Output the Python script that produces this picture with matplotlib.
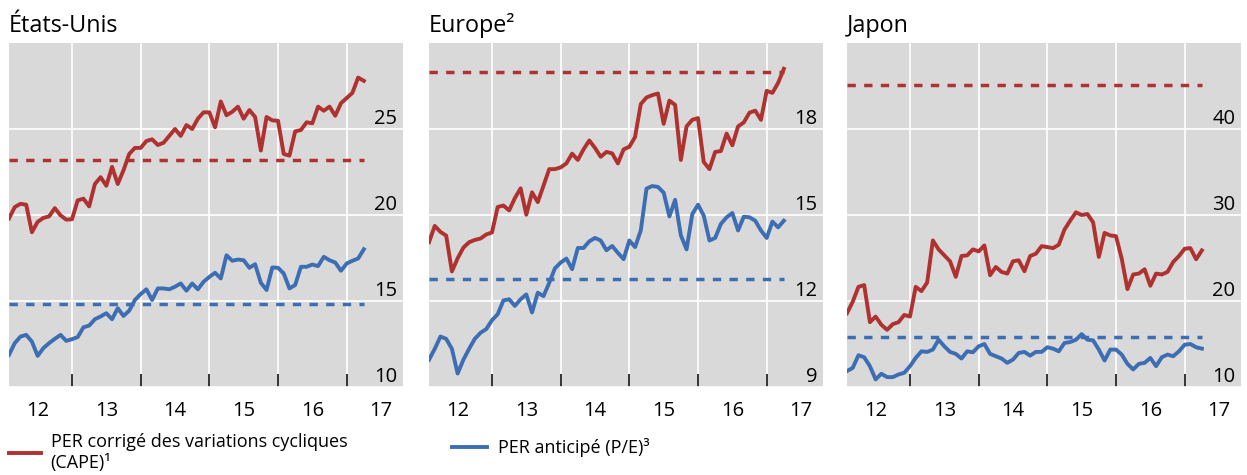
import numpy as np
import pandas as pd
import matplotlib
matplotlib.use("Agg")
import matplotlib.pyplot as plt
from matplotlib.lines import Line2D

plt.rcParams['font.family'] = ['Open Sans', 'DejaVu Sans']

# ---------------- data ----------------
dates = pd.date_range("2012-02-01", "2017-04-01", freq="MS")
xyear = np.asarray(dates.year + (dates.month - 1) / 12.0, dtype=float)

us_cape = [19.8, 20.46, 20.65, 20.6, 19.0, 19.6, 19.83, 19.92, 20.4, 19.98, 19.73, 19.75,
           20.85, 20.95, 20.5, 21.8, 22.2, 21.7, 22.8, 21.8, 22.6, 23.55, 23.9, 23.9,
           24.3, 24.4, 24.07, 24.2, 24.6, 25.0, 24.6, 25.23, 25.0, 25.6, 25.97, 25.97,
           25.1, 26.6, 25.8, 26.0, 26.3, 25.6, 26.1, 25.7, 23.75, 25.7, 25.5, 25.48,
           23.55, 23.45, 24.86, 24.94, 25.39, 25.33, 26.3, 26.06, 26.3, 25.77, 26.5, 26.8,
           27.1, 27.99, 27.8]
us_pe = [11.87, 12.55, 12.93, 13.03, 12.64, 11.81, 12.26, 12.55, 12.8, 13.03, 12.68, 12.78,
         12.9, 13.47, 13.57, 13.94, 14.1, 14.29, 13.94, 14.58, 14.13, 14.44, 15.06, 15.4,
         15.68, 15.06, 15.73, 15.73, 15.68, 15.83, 16.02, 15.6, 16.02, 15.68, 16.12, 16.4,
         16.64, 16.31, 17.66, 17.34, 17.41, 17.37, 16.93, 17.14, 16.06, 15.64, 16.95, 16.93,
         16.6, 15.73, 15.93, 16.99, 16.99, 17.12, 17.03, 17.57, 17.37, 17.24, 16.76, 17.18,
         17.34, 17.47, 18.01]
us_cape_avg = 23.22
us_pe_avg = 14.81

eu_cape = [14.05, 14.62, 14.41, 14.28, 13.03, 13.49, 13.86, 14.05, 14.13, 14.18, 14.32, 14.39,
           15.28, 15.33, 15.16, 15.59, 15.93, 15.01, 15.79, 15.45, 16.02, 16.6, 16.6, 16.66,
           16.8, 17.14, 16.92, 17.29, 17.6, 17.34, 17.03, 17.2, 17.15, 16.8, 17.29, 17.38,
           17.72, 18.87, 19.1, 19.18, 19.24, 18.18, 18.99, 18.84, 16.92, 18.09, 18.32, 18.38,
           16.85, 16.6, 17.2, 17.23, 17.84, 17.43, 18.09, 18.23, 18.57, 18.64, 18.32, 19.33,
           19.26, 19.61, 20.1]
eu_pe = [9.95, 10.33, 10.76, 10.68, 10.33, 9.47, 9.95, 10.33, 10.68, 10.89, 11.02, 11.33,
         11.54, 12.02, 12.06, 11.83, 12.06, 12.23, 11.6, 12.29, 12.17, 12.63, 13.14, 13.34,
         13.48, 13.11, 13.85, 13.85, 14.08, 14.2, 14.11, 13.77, 13.92, 13.68, 13.46, 14.11,
         13.88, 14.46, 15.92, 16.01, 15.98, 15.78, 14.95, 15.53, 14.29, 13.8, 15.03, 15.36,
         14.98, 14.11, 14.2, 14.69, 14.92, 15.07, 14.46, 14.94, 14.92, 14.8, 14.46, 14.2,
         14.77, 14.57, 14.8]
eu_cape_avg = 19.98
eu_pe_avg = 12.77

jp_cape = [18.58, 19.92, 21.65, 21.85, 17.54, 18.19, 17.23, 16.65, 17.31, 17.54, 18.38, 18.19,
           21.65, 21.15, 22.15, 27.04, 26.0, 25.31, 24.62, 22.81, 25.23, 25.31, 26.0, 25.77,
           26.46, 23.0, 23.96, 23.38, 23.19, 24.62, 24.73, 23.46, 25.23, 25.5, 26.38, 26.27,
           26.15, 26.54, 28.31, 29.35, 30.31, 30.0, 30.12, 29.15, 25.12, 27.92, 27.62, 27.54,
           24.92, 21.38, 23.08, 23.19, 23.69, 21.77, 23.19, 23.08, 23.38, 24.54, 25.23, 26.08,
           26.15, 24.85, 25.88]
jp_pe = [11.85, 12.23, 13.69, 13.46, 12.42, 10.88, 11.54, 11.15, 11.15, 11.46, 11.65, 12.42,
         13.38, 14.15, 14.08, 14.35, 15.5, 14.73, 14.08, 13.85, 13.31, 14.15, 14.04, 14.73,
         15.0, 13.85, 13.58, 13.31, 12.81, 13.19, 13.96, 14.08, 13.65, 14.08, 14.08, 14.62,
         14.46, 14.15, 15.12, 15.23, 15.5, 16.15, 15.5, 15.42, 14.35, 13.08, 14.35, 14.35,
         13.77, 12.69, 12.04, 12.69, 12.81, 13.38, 12.42, 13.46, 13.77, 13.58, 14.15, 14.92,
         15.0, 14.62, 14.46]
jp_cape_avg = 45.1
jp_pe_avg = 15.81

titles = ["États-Unis", "Europe²", "Japon"]
ylims = [(10, 30), (9, 21), (10, 50)]
yticks = [[10, 15, 20, 25], [9, 12, 15, 18], [10, 20, 30, 40]]
year_bounds = [2013, 2014, 2015, 2016, 2017]
year_centers = [2012.5, 2013.5, 2014.5, 2015.5, 2016.5, 2017.5]
year_labels = ["12", "13", "14", "15", "16", "17"]
legend_labels = ["PER corrigé des variations cycliques\n(CAPE)¹", "PER anticipé (P/E)³"]

panels = [
    (us_cape, us_pe, us_cape_avg, us_pe_avg),
    (eu_cape, eu_pe, eu_cape_avg, eu_pe_avg),
    (jp_cape, jp_pe, jp_cape_avg, jp_pe_avg),
]

RED = "#AF3130"
BLUE = "#3D6DB3"
BG = "#D9D9D9"

W, H = 1247, 475
fig = plt.figure(figsize=(W / 100, H / 100), dpi=100)

lefts_px = [9, 429, 847]
width_px = 394
top_px, bot_px = 43, 387

for i, (cape, pe, cape_avg, pe_avg) in enumerate(panels):
    ax = fig.add_axes([lefts_px[i] / W, 1 - bot_px / H, width_px / W, (bot_px - top_px) / H])
    ax.set_facecolor(BG)
    for s in ax.spines.values():
        s.set_visible(False)
    ax.set_axisbelow(True)

    ax.plot(xyear, cape, color=RED, lw=2.8, solid_joinstyle='round', zorder=3)
    ax.plot(xyear, pe, color=BLUE, lw=2.8, solid_joinstyle='round', zorder=3)
    ax.plot([xyear[0], xyear[-1]], [cape_avg, cape_avg], color=RED, lw=2.5,
            dashes=(2.4, 2.4), zorder=2)
    ax.plot([xyear[0], xyear[-1]], [pe_avg, pe_avg], color=BLUE, lw=2.5,
            dashes=(2.4, 2.4), zorder=2)

    ax.set_xlim(2012.083, 2017.82)
    ax.set_ylim(*ylims[i])

    ax.set_xticks(year_bounds)
    ax.set_xticklabels([])
    ax.set_xticks(year_centers, minor=True)
    ax.set_xticklabels(year_labels, minor=True)
    ax.tick_params(axis='x', which='major', direction='in', length=9.5, width=1.1,
                   color='black')
    ax.tick_params(axis='x', which='minor', length=0, pad=10, labelsize=14.5)

    ax.yaxis.tick_right()
    ax.set_yticks(yticks[i])
    ax.tick_params(axis='y', which='major', length=0, pad=-4, labelsize=14.5)
    plt.setp(ax.get_yticklabels(), ha='right', va='bottom')

    ax.grid(True, which='major', color='white', linewidth=1.2)

    ax.set_title(titles[i], loc='left', fontsize=16.8, pad=8)

h_red = Line2D([], [], color=RED, lw=2.8)
h_blue = Line2D([], [], color=BLUE, lw=2.8)
fig.legend([h_red], [legend_labels[0]], loc='upper left',
           bbox_to_anchor=(9 / W, 1 - 433 / H), frameon=False, fontsize=13,
           handlelength=1.75, handletextpad=0.55, borderpad=0, borderaxespad=0,
           labelspacing=0)
fig.legend([h_blue], [legend_labels[1]], loc='upper left',
           bbox_to_anchor=(452 / W, 1 - 438 / H), frameon=False, fontsize=13,
           handlelength=1.95, handletextpad=0.6, borderpad=0, borderaxespad=0)

fig.savefig("out.png", dpi=100)
